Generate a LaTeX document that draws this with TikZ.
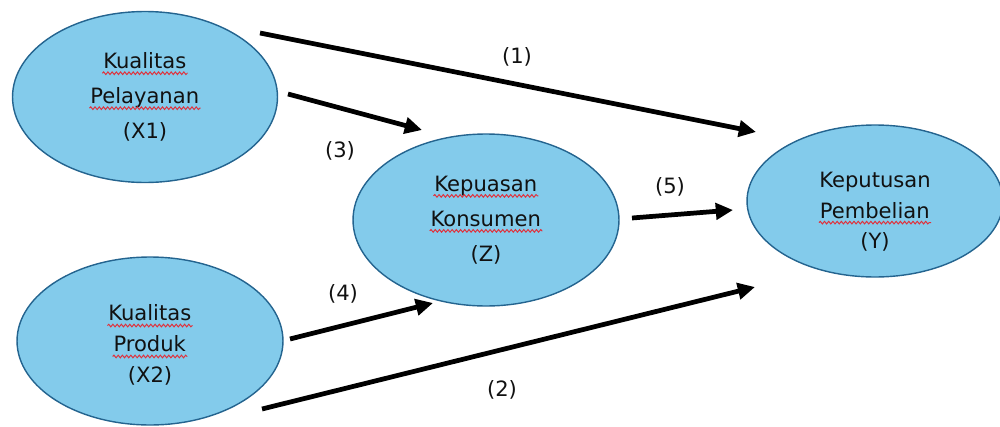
\documentclass[tikz,border=0pt]{standalone}
\usepackage{fontspec}
\setmainfont{DejaVu Sans}
\usetikzlibrary{arrows.meta,shapes.geometric,decorations.pathmorphing}
\definecolor{ellfill}{HTML}{83CBEB}
\definecolor{elldraw}{HTML}{24648F}
\definecolor{txt}{HTML}{111111}
\definecolor{squigred}{HTML}{E0303A}
\newcommand{\sqw}[1]{\tikz[x=1cm,y=1cm,baseline=(sqw.base)]{\node[shape=rectangle,draw=none,fill=none,inner sep=0pt,outer sep=0pt,minimum width=0pt,minimum height=0pt] (sqw) {#1};\draw[squigred,line width=0.55pt,decorate,decoration={snake,amplitude=0.75pt,segment length=2.4pt}] ([xshift=-0.5pt,yshift=-2.6pt]sqw.base west) -- ([xshift=0.8pt,yshift=-2.6pt]sqw.base east);}}
\tikzset{
  ell/.style={ellipse, draw=elldraw, fill=ellfill, line width=0.8pt, inner sep=0pt, align=center, text=txt},
  wide/.style={font=\fontsize{12}{19.9}\selectfont},
  narrow/.style={font=\fontsize{12}{17.6}\selectfont},
  arr/.style={-{Triangle[length=9.8pt,width=9.2pt]}, line width=2.7pt, black},
  lbl/.style={text=txt, font=\fontsize{12}{14}\selectfont, inner sep=1pt}
}
\begin{document}
\begin{tikzpicture}[x=0.02cm,y=-0.02cm]
\useasboundingbox (0,0) rectangle (1000,426);
% ellipses
\node[ell,wide,minimum width=5.30cm,minimum height=3.42cm] (X1) at (145,97) {\sqw{Kualitas}\\\sqw{Pelayanan}\\(X1)};
\node[ell,narrow,minimum width=5.32cm,minimum height=3.36cm] (X2) at (150,341) {\rule{0pt}{14pt}\sqw{Kualitas}\\\sqw{Produk}\\(X2)};
\node[ell,wide,minimum width=5.32cm,minimum height=3.44cm] (Z) at (486,220) {\sqw{Kepuasan}\\\sqw{Konsumen}\\(Z)};
\node[ell,narrow,minimum width=5.12cm,minimum height=3.04cm] (Y) at (875,201) {\rule{0pt}{21pt}Keputusan\\\sqw{Pembelian}\\(Y)};
% connector end points
\coordinate (a1s) at (260,33);  \coordinate (a1e) at (756,132);
\coordinate (a3s) at (288,94);  \coordinate (a3e) at (422,130);
\coordinate (a4s) at (290,339); \coordinate (a4e) at (433,303);
\coordinate (a2s) at (262,409); \coordinate (a2e) at (755,287);
\coordinate (a5s) at (632,218); \coordinate (a5e) at (733,210);
\draw[arr] (a1s) -- (a1e);
\draw[arr] (a3s) -- (a3e);
\draw[arr] (a4s) -- (a4e);
\draw[arr] (a2s) -- (a2e);
\draw[arr] (a5s) -- (a5e);
% labels
\node[lbl] (l1) at (517,57) {(1)};
\node[lbl] (l3) at (340,151) {(3)};
\node[lbl] (l4) at (343,294) {(4)};
\node[lbl] (l2) at (502,390) {(2)};
\node[lbl] (l5) at (670,187) {(5)};
\end{tikzpicture}
\end{document}
